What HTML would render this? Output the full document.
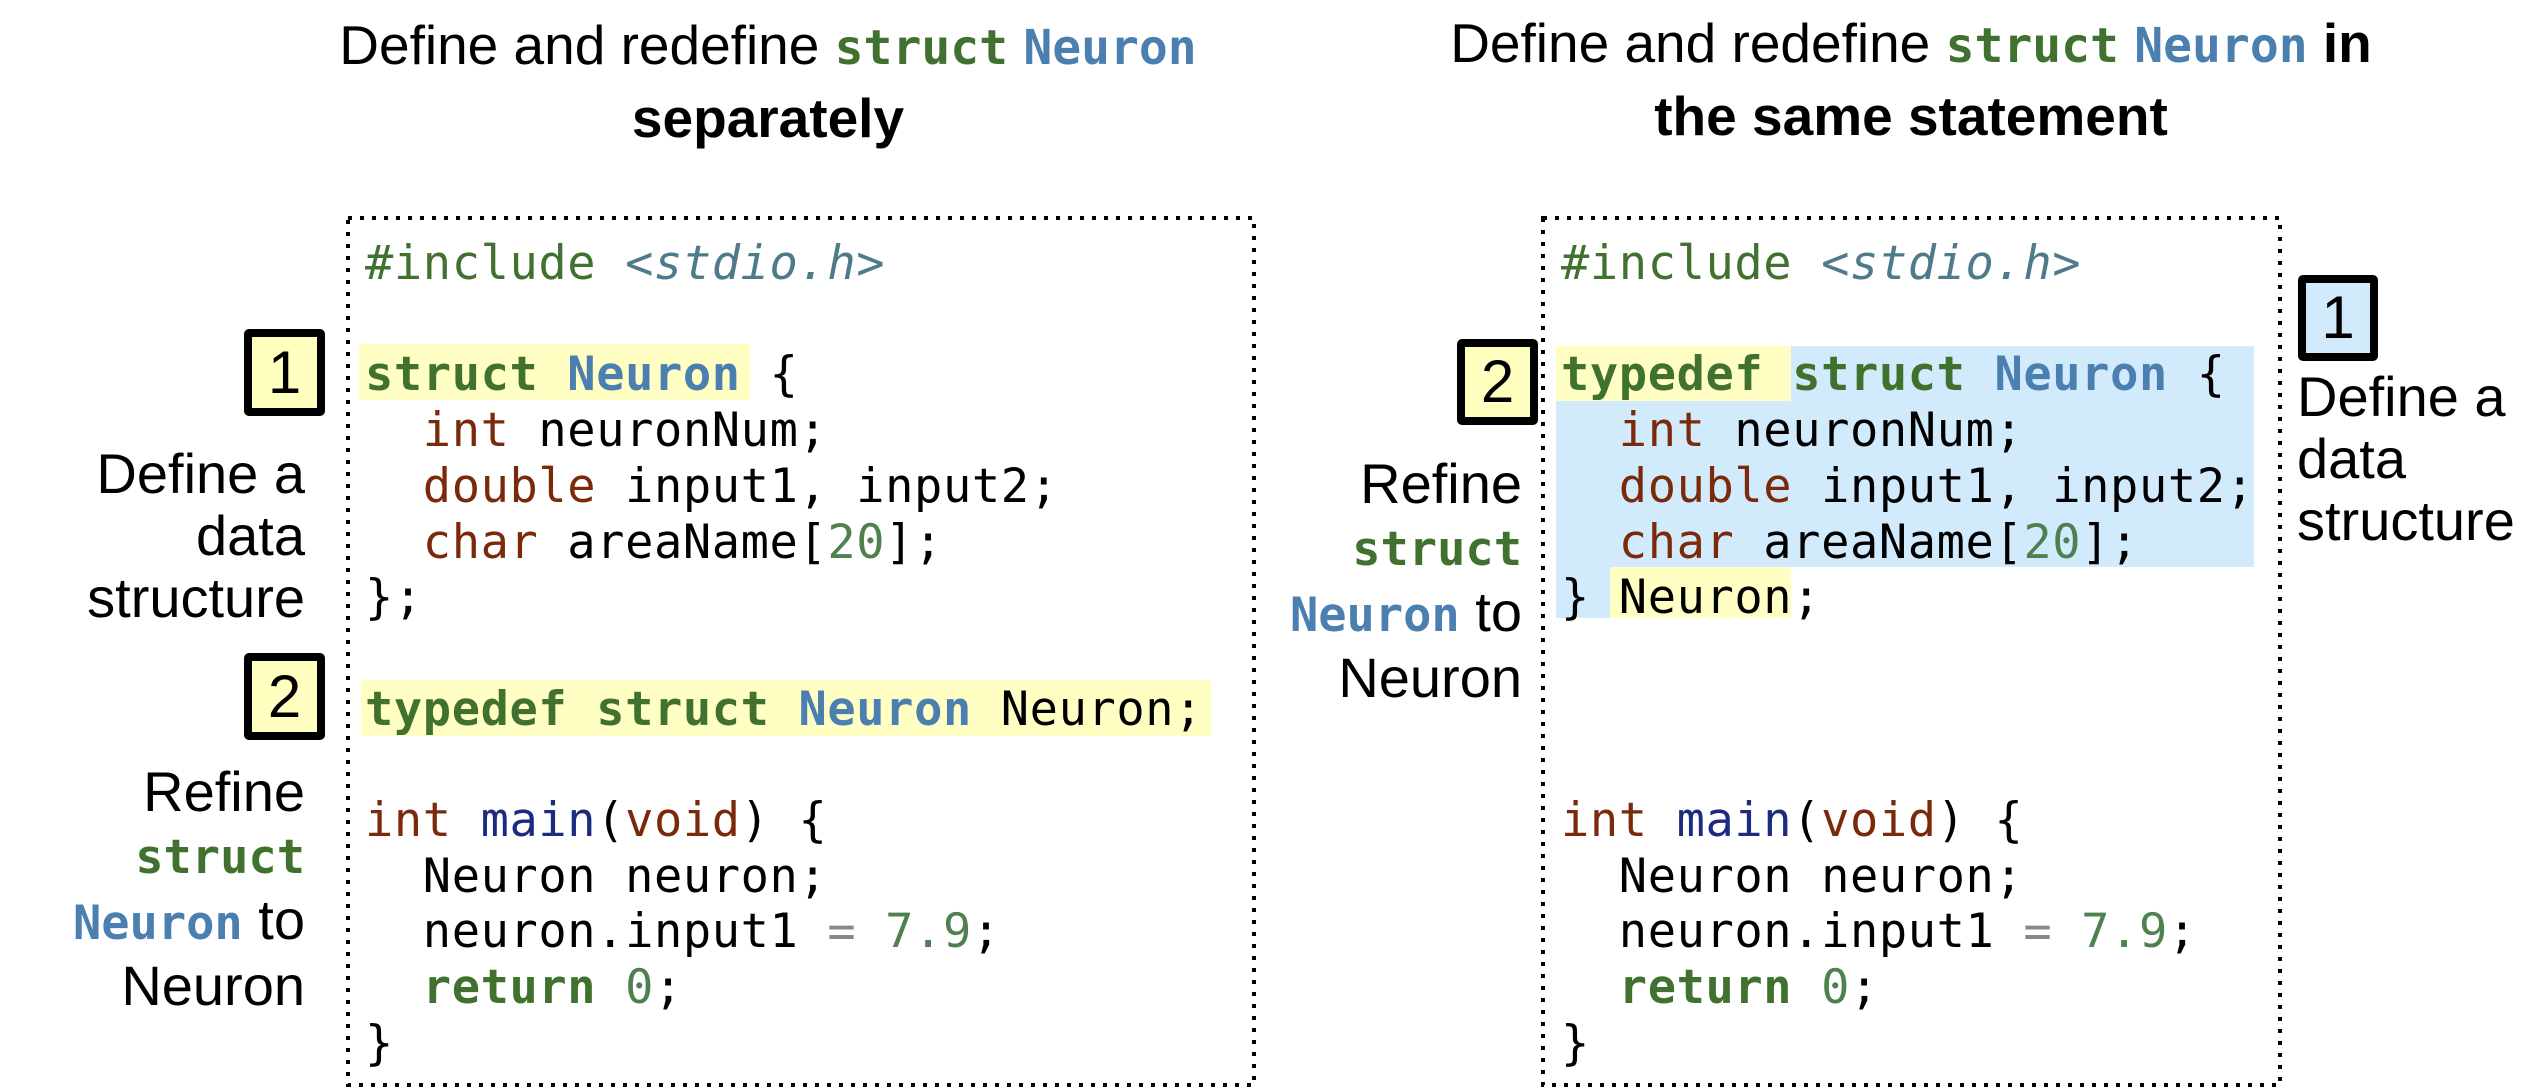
<!DOCTYPE html>
<html><head><meta charset="utf-8"><style>
body{margin:0;width:2542px;height:1089px;background:#fff;position:relative;overflow:hidden;font-family:"Liberation Sans",Arial,sans-serif;}
.a{position:absolute;}
.mono{font-family:"DejaVu Sans Mono","Liberation Mono",monospace;}
pre{margin:0;font-size:47px;line-height:55.7px;color:#000;letter-spacing:0.6px;}
.k{color:#41712f;font-weight:bold}
.inc{color:#41712f}
.h{color:#4f7a8a;font-style:italic}
.n{color:#4a7fb0;font-weight:bold}
.t{color:#7a2a0a}
.m{color:#1c2a80}
.num{color:#4f8050}
.eq{color:#888}
.title{font-size:55px;line-height:70px;text-align:center;width:1100px;}
.title .mono{font-size:48px;font-weight:bold}
.lbl{font-size:56px;line-height:62px;}
.lbl .mono{font-size:47px;font-weight:bold}
.box{position:absolute;border:8px solid #000;border-radius:5px;box-sizing:border-box;font-size:60px;line-height:70px;text-align:center;}
</style></head><body>
<svg class="a" style="left:0;top:0" width="2542" height="1089">
<rect x="348" y="218" width="906" height="867" fill="none" stroke="#000" stroke-width="4" stroke-dasharray="4 8"/>
<rect x="1543" y="218" width="737" height="867" fill="none" stroke="#000" stroke-width="4" stroke-dasharray="4 8"/>
</svg>
<div class="a title" style="left:218px;top:10px">Define and redefine <span class="mono" style="color:#41712f">struct</span> <span class="mono" style="color:#4a7fb0">Neuron</span><br><b>separately</b></div>
<div class="a title" style="left:1361px;top:8px">Define and redefine <span class="mono" style="color:#41712f">struct</span> <span class="mono" style="color:#4a7fb0">Neuron</span> <b>in</b><br><b>the same statement</b></div>
<div class="a" style="left:359px;top:344px;width:391px;height:56px;background:#ffffc4"></div>
<div class="a" style="left:361px;top:680px;width:850px;height:56px;background:#ffffc4"></div>
<div class="a" style="left:1556px;top:346px;width:698px;height:221px;background:#d2ebfc"></div>
<div class="a" style="left:1556px;top:346px;width:235px;height:55px;background:#ffffc4"></div>
<div class="a" style="left:1556px;top:567px;width:54px;height:51px;background:#d2ebfc"></div>
<div class="a" style="left:1610px;top:567px;width:181px;height:51px;background:#ffffc4"></div>
<pre class="a mono" style="left:365px;top:236px"><span class="inc">#include</span> <span class="h">&lt;stdio.h&gt;</span>

<span class="k">struct</span> <span class="n">Neuron</span> {
  <span class="t">int</span> neuronNum;
  <span class="t">double</span> input1, input2;
  <span class="t">char</span> areaName[<span class="num">20</span>];
};

<span class="k">typedef</span> <span class="k">struct</span> <span class="n">Neuron</span> Neuron;

<span class="t">int</span> <span class="m">main</span>(<span class="t">void</span>) {
  Neuron neuron;
  neuron.input1 <span class="eq">=</span> <span class="num">7.9</span>;
  <span class="k">return</span> <span class="num">0</span>;
}</pre>
<pre class="a mono" style="left:1561px;top:236px"><span class="inc">#include</span> <span class="h">&lt;stdio.h&gt;</span>

<span class="k">typedef</span> <span class="k">struct</span> <span class="n">Neuron</span> {
  <span class="t">int</span> neuronNum;
  <span class="t">double</span> input1, input2;
  <span class="t">char</span> areaName[<span class="num">20</span>];
} Neuron;



<span class="t">int</span> <span class="m">main</span>(<span class="t">void</span>) {
  Neuron neuron;
  neuron.input1 <span class="eq">=</span> <span class="num">7.9</span>;
  <span class="k">return</span> <span class="num">0</span>;
}</pre>
<div class="box" style="left:244px;top:329px;width:81px;height:87px;background:#ffffc0;line-height:71px">1</div>
<div class="box" style="left:244px;top:653px;width:81px;height:87px;background:#ffffc0;line-height:71px">2</div>
<div class="a lbl" style="left:0;width:305px;text-align:right;top:443px">Define a<br>data<br>structure</div>
<div class="a lbl" style="left:0;width:305px;text-align:right;top:761px">Refine<br><span class="mono" style="color:#41712f">struct</span><br><span class="mono" style="color:#4a7fb0">Neuron</span> to<br>Neuron</div>
<div class="box" style="left:2298px;top:275px;width:80px;height:86px;background:#d2ebfc;line-height:70px">1</div>
<div class="box" style="left:1457px;top:339px;width:81px;height:86px;background:#ffffc0;line-height:70px">2</div>
<div class="a lbl" style="left:2297px;top:366px">Define a<br>data<br>structure</div>
<div class="a lbl" style="left:1200px;width:322px;text-align:right;top:453px">Refine<br><span class="mono" style="color:#41712f">struct</span><br><span class="mono" style="color:#4a7fb0">Neuron</span> to<br>Neuron</div>
</body></html>
